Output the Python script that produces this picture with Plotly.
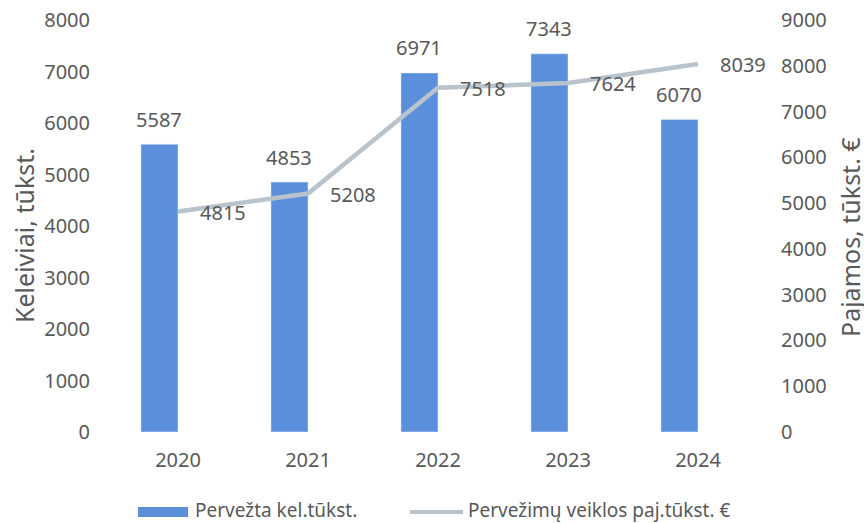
import plotly.graph_objects as go

years = ["2020", "2021", "2022", "2023", "2024"]
passengers = [5587, 4853, 6971, 7343, 6070]
revenue = [4815, 5208, 7518, 7624, 8039]
left_ticks = [0, 1000, 2000, 3000, 4000, 5000, 6000, 7000, 8000]
right_ticks = [0, 1000, 2000, 3000, 4000, 5000, 6000, 7000, 8000, 9000]
bar_name = "Pervežta kel.tūkst."
line_name = "Pervežimų veiklos paj.tūkst. €"
left_title = "Keleiviai, tūkst."
right_title = "Pajamos, tūkst. €"

font_color = "#595959"
bar_color = "#5b8fdc"
line_color = "#b9c3cb"
fam = "Noto Sans, Open Sans, sans-serif"

W, H = 864, 523
L, R, T, B = 113, 101, 20, 91
PW, PH = W - L - R, H - T - B
BAR_W = 0.285  # bars sit left of the category centre (clustered slot)


def px(x):
    return (x - L) / PW


def py(y):
    return (H - B - y) / PH


fig = go.Figure()
fig.add_trace(go.Bar(
    x=years, y=passengers, name=bar_name,
    marker=dict(color=bar_color), width=BAR_W, offset=-BAR_W, showlegend=False,
))
fig.add_trace(go.Scatter(
    x=years, y=revenue, name=line_name,
    mode="lines", yaxis="y2", showlegend=False,
    line=dict(color=line_color, width=4.5),
))

annotations = []
# on a category axis, annotation x is the category index
for i, v in enumerate(passengers):
    annotations.append(dict(x=i - BAR_W / 2, y=v, xref="x", yref="y", text=str(v),
                            showarrow=False, yanchor="middle", yshift=25,
                            font=dict(size=20, color=font_color)))
for i, v in enumerate(revenue):
    annotations.append(dict(x=i, y=v, xref="x", yref="y2", text=str(v),
                            showarrow=False, xanchor="left", yanchor="middle",
                            xshift=20, yshift=-1,
                            font=dict(size=20, color=font_color)))

# axis titles
annotations.append(dict(x=px(24), y=py(236), xref="paper", yref="paper", text=left_title,
                        showarrow=False, textangle=-90, xanchor="center", yanchor="middle",
                        font=dict(size=25, color=font_color)))
annotations.append(dict(x=px(850), y=py(237), xref="paper", yref="paper", text=right_title,
                        showarrow=False, textangle=-90, xanchor="center", yanchor="middle",
                        font=dict(size=25, color=font_color)))

# custom legend
annotations.append(dict(x=px(193), y=py(510), xref="paper", yref="paper", text=bar_name,
                        showarrow=False, xanchor="left", yanchor="middle",
                        font=dict(size=19, color=font_color)))
annotations.append(dict(x=px(466), y=py(510), xref="paper", yref="paper", text=line_name,
                        showarrow=False, xanchor="left", yanchor="middle",
                        font=dict(size=19, color=font_color)))
shapes = [
    dict(type="rect", xref="paper", yref="paper", x0=px(138), x1=px(188),
         y0=py(517), y1=py(507), fillcolor=bar_color, line=dict(width=0)),
    dict(type="line", xref="paper", yref="paper", x0=px(410), x1=px(463),
         y0=py(512), y1=py(512), line=dict(color=line_color, width=4)),
]

fig.update_layout(
    width=W, height=H,
    margin=dict(l=L, r=R, t=T, b=B),
    paper_bgcolor="white", plot_bgcolor="white",
    font=dict(family=fam, size=20, color=font_color),
    showlegend=False,
    xaxis=dict(type="category", range=[-0.5, len(years) - 0.5], showgrid=False,
               showline=False, ticks="outside", ticklen=10, tickcolor="rgba(0,0,0,0)",
               tickfont=dict(size=20), automargin=False),
    yaxis=dict(range=[0, 8000], tickvals=left_ticks, showgrid=False, zeroline=False,
               tickfont=dict(size=20), ticks="", ticklabelstandoff=22, automargin=False),
    yaxis2=dict(range=[0, 9000], tickvals=right_ticks, overlaying="y", side="right",
                showgrid=False, zeroline=False, tickfont=dict(size=20),
                ticks="", ticklabelstandoff=17, automargin=False),
    annotations=annotations,
    shapes=shapes,
)

fig.write_html("out.html", config={"displayModeBar": False},
               post_script="document.body.style.margin='0px';")
